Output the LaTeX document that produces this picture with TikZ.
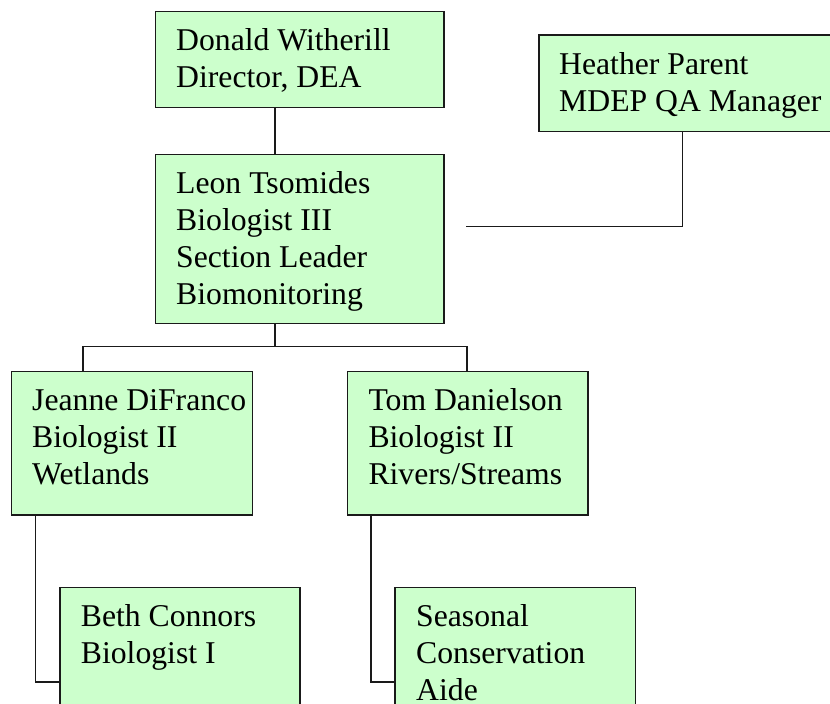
\documentclass[tikz,border=0pt]{standalone}
\usepackage{fontspec}
\setmainfont{Liberation Serif}
\definecolor{boxgreen}{HTML}{CCFFCC}
\definecolor{edge}{HTML}{1A1A1A}
\tikzset{
  orgbox/.style={draw=edge, line width=1.4pt, fill=boxgreen, rectangle, inner sep=0pt, anchor=north west},
  orgtext/.style={anchor=north west, inner sep=0pt, align=left, text=black, font=\fontsize{31.7}{37}\selectfont},
  link/.style={draw=edge, line width=1.3pt}
}
\begin{document}
\begin{tikzpicture}[x=1pt,y=-1pt]
\useasboundingbox (0,0) rectangle (830,704);
\clip (0,0) rectangle (830,704);
% boxes
\node[orgbox, minimum width=288.3pt, minimum height=96pt] (don) at (155,10.7) {};
\node[orgbox, minimum width=302pt, minimum height=96.4pt] (hea) at (538.3,34.3) {};
\node[orgbox, minimum width=288.3pt, minimum height=169pt] (leo) at (155,154) {};
\node[orgbox, minimum width=240.7pt, minimum height=143.6pt] (jea) at (11,370.7) {};
\node[orgbox, minimum width=240.6pt, minimum height=143.6pt] (tom) at (346.7,370.7) {};
\node[orgbox, minimum width=240pt, minimum height=140pt] (bet) at (59.3,586.7) {};
\node[orgbox, minimum width=240.7pt, minimum height=140pt] (sea) at (394.3,586.7) {};
% texts
\node[orgtext] (donT) at ([shift={(21,13.6)}]don.north west) {\strut Donald Witherill\\Director, DEA};
\node[orgtext] (heaT) at ([shift={(20.7,13.6)}]hea.north west) {\strut Heather Parent\\MDEP QA Manager};
\node[orgtext] (leoT) at ([shift={(21,13.6)}]leo.north west) {\strut Leon Tsomides\\Biologist III\\Section Leader\\Biomonitoring};
\node[orgtext] (jeaT) at ([shift={(21,13.6)}]jea.north west) {\strut Jeanne DiFranco\\Biologist II\\Wetlands};
\node[orgtext] (tomT) at ([shift={(21.6,13.6)}]tom.north west) {\strut Tom Danielson\\Biologist II\\Rivers/Streams};
\node[orgtext] (betT) at ([shift={(21.4,13.6)}]bet.north west) {\strut Beth Connors\\Biologist I};
\node[orgtext] (seaT) at ([shift={(21.7,13.2)}]sea.north west) {\strut Seasonal\\Conservation\\Aide};
% helper coordinates
\coordinate (xmain) at (275,0);
\coordinate (bus) at (0,346.5);
\coordinate (xj) at (83,0);
\coordinate (xt) at (467,0);
\coordinate (xh) at (682.7,0);
\coordinate (hy) at (0,226.7);
\coordinate (hend) at (466,226.7);
\coordinate (xjb) at (35.7,0);
\coordinate (xts) at (371,0);
\coordinate (ly) at (0,682);
% connectors
\draw[link] (don.south -| xmain) -- (leo.north -| xmain);
\draw[link] (leo.south -| xmain) -- (xmain |- bus);
\draw[link] (jea.north -| xj) -- (xj |- bus) -- (xt |- bus) -- (tom.north -| xt);
\draw[link] (hea.south -| xh) -- (xh |- hy) -- (hend);
\draw[link] (jea.south -| xjb) -- (xjb |- ly) -- (bet.west |- ly);
\draw[link] (tom.south -| xts) -- (xts |- ly) -- (sea.west |- ly);
\end{tikzpicture}
\end{document}
